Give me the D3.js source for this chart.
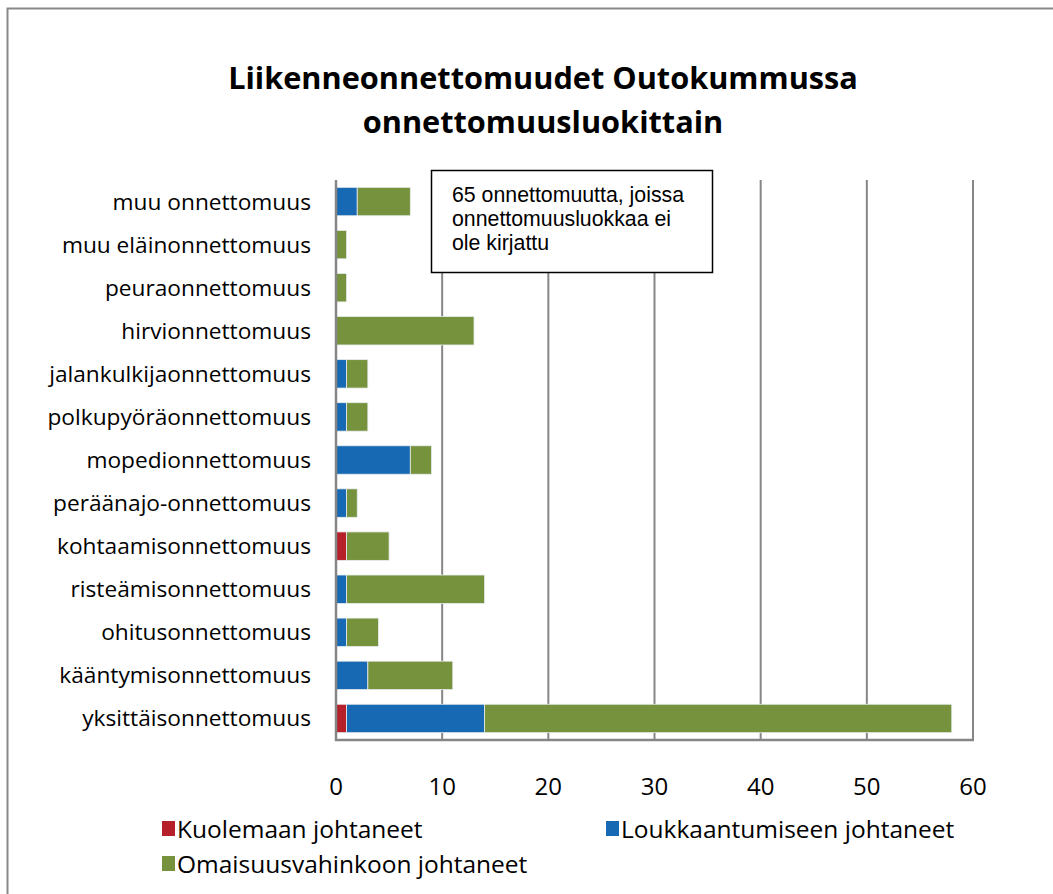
<!DOCTYPE html>
<html><head><meta charset="utf-8">
<script src="https://cdn.jsdelivr.net/npm/d3@7"></script>
<style>body{margin:0;background:#fff}svg{display:block}</style>
</head><body>
<svg id="chart" width="1053" height="894"></svg>
<script>
const categories = ["muu onnettomuus","muu eläinonnettomuus","peuraonnettomuus","hirvionnettomuus","jalankulkijaonnettomuus","polkupyöräonnettomuus","mopedionnettomuus","peräänajo-onnettomuus","kohtaamisonnettomuus","risteämisonnettomuus","ohitusonnettomuus","kääntymisonnettomuus","yksittäisonnettomuus"];
const kuolemaan = [0,0,0,0,0,0,0,0,1,0,0,0,1];
const loukkaantumiseen = [2,0,0,0,1,1,7,1,0,1,1,3,13];
const omaisuusvahinkoon = [5,1,1,13,2,2,2,1,4,13,3,8,44];
const seriesNames = ["Kuolemaan johtaneet","Loukkaantumiseen johtaneet","Omaisuusvahinkoon johtaneet"];
const colors = ["#B5202A","#1769B3","#76923C"];
const xTicks = [0,10,20,30,40,50,60];
const titleLines = ["Liikenneonnettomuudet Outokummussa","onnettomuusluokittain"];
const noteLines = ["65 onnettomuutta, joissa","onnettomuusluokkaa ei","ole kirjattu"];

const svg = d3.select("#chart");
const font = "'Open Sans', Lato, sans-serif";
// outer border
svg.append("rect").attr("x",7.5).attr("y",8.5).attr("width",1060).attr("height",900)
  .attr("fill","#fff").attr("stroke","#888").attr("stroke-width",2);

// title
svg.append("g").selectAll("text").data(titleLines).join("text")
  .attr("x",543).attr("y",(d,i)=>89+i*44).attr("text-anchor","middle")
  .attr("font-family",font).attr("font-weight","bold").attr("font-size",30.7).attr("fill","#000").text(d=>d);

const pLeft=336, pRight=973, pTop=180, pBottom=740;
const x = d3.scaleLinear().domain([0,60]).range([pLeft,pRight]);
const y = d3.scaleBand().domain(categories).range([pTop,pBottom]).paddingInner(0.34).paddingOuter(0.17);

// gridlines
svg.append("g").selectAll("line").data(xTicks.slice(1)).join("line")
  .attr("x1",d=>x(d)).attr("x2",d=>x(d)).attr("y1",pTop).attr("y2",pBottom)
  .attr("stroke","#868686").attr("stroke-width",2);

// stacked bars
const table = categories.map((c,i)=>({cat:c,k:kuolemaan[i],l:loukkaantumiseen[i],o:omaisuusvahinkoon[i]}));
const stack = d3.stack().keys(["k","l","o"])(table);
const g = svg.append("g");
stack.forEach((s,si)=>{
  g.append("g").selectAll("rect").data(s.filter(d=>d[1]-d[0]>0)).join("rect")
    .attr("x",d=>x(d[0])).attr("width",d=>x(d[1])-x(d[0]))
    .attr("y",d=>y(d.data.cat)).attr("height",y.bandwidth())
    .attr("fill",colors[si]).attr("stroke","#e8ecef").attr("stroke-width",0.8);
});

// axes lines
svg.append("line").attr("x1",pLeft).attr("x2",pLeft).attr("y1",pTop).attr("y2",pBottom+1)
  .attr("stroke","#868686").attr("stroke-width",2.5);
svg.append("line").attr("x1",pLeft-1).attr("x2",pRight+1).attr("y1",pBottom).attr("y2",pBottom)
  .attr("stroke","#868686").attr("stroke-width",2.5);

// category labels
svg.append("g").selectAll("text").data(categories).join("text")
  .attr("x",311).attr("y",d=>y(d)+y.bandwidth()/2+8).attr("text-anchor","end")
  .attr("font-family",font).attr("font-size",22.7).attr("fill","#000").text(d=>d);

// tick labels
svg.append("g").selectAll("text").data(xTicks).join("text")
  .attr("x",d=>x(d)).attr("y",795).attr("text-anchor","middle")
  .attr("font-family",font).attr("font-size",24).attr("fill","#000").text(d=>d);

// annotation box
svg.append("rect").attr("x",431.5).attr("y",170.5).attr("width",281).attr("height",102)
  .attr("fill","#fff").attr("stroke","#000").attr("stroke-width",1.5);
svg.append("g").selectAll("text").data(noteLines).join("text")
  .attr("x",452).attr("y",(d,i)=>202+i*24)
  .attr("font-family","'Liberation Sans', Arial, sans-serif").attr("font-size",21.3).attr("fill","#000").text(d=>d);

// legend
const legPos = [[168,838],[612,838],[168,873]];
const lg = svg.append("g").selectAll("g").data(seriesNames).join("g")
  .attr("transform",(d,i)=>`translate(${legPos[i][0]},${legPos[i][1]})`);
lg.append("rect").attr("x",-6).attr("y",-17).attr("width",13).attr("height",15).attr("fill",(d,i)=>colors[i]);
lg.append("text").attr("x",9).attr("y",0).attr("font-family",font).attr("font-size",24.5).attr("fill","#000").text(d=>d);
</script>
</body></html>
